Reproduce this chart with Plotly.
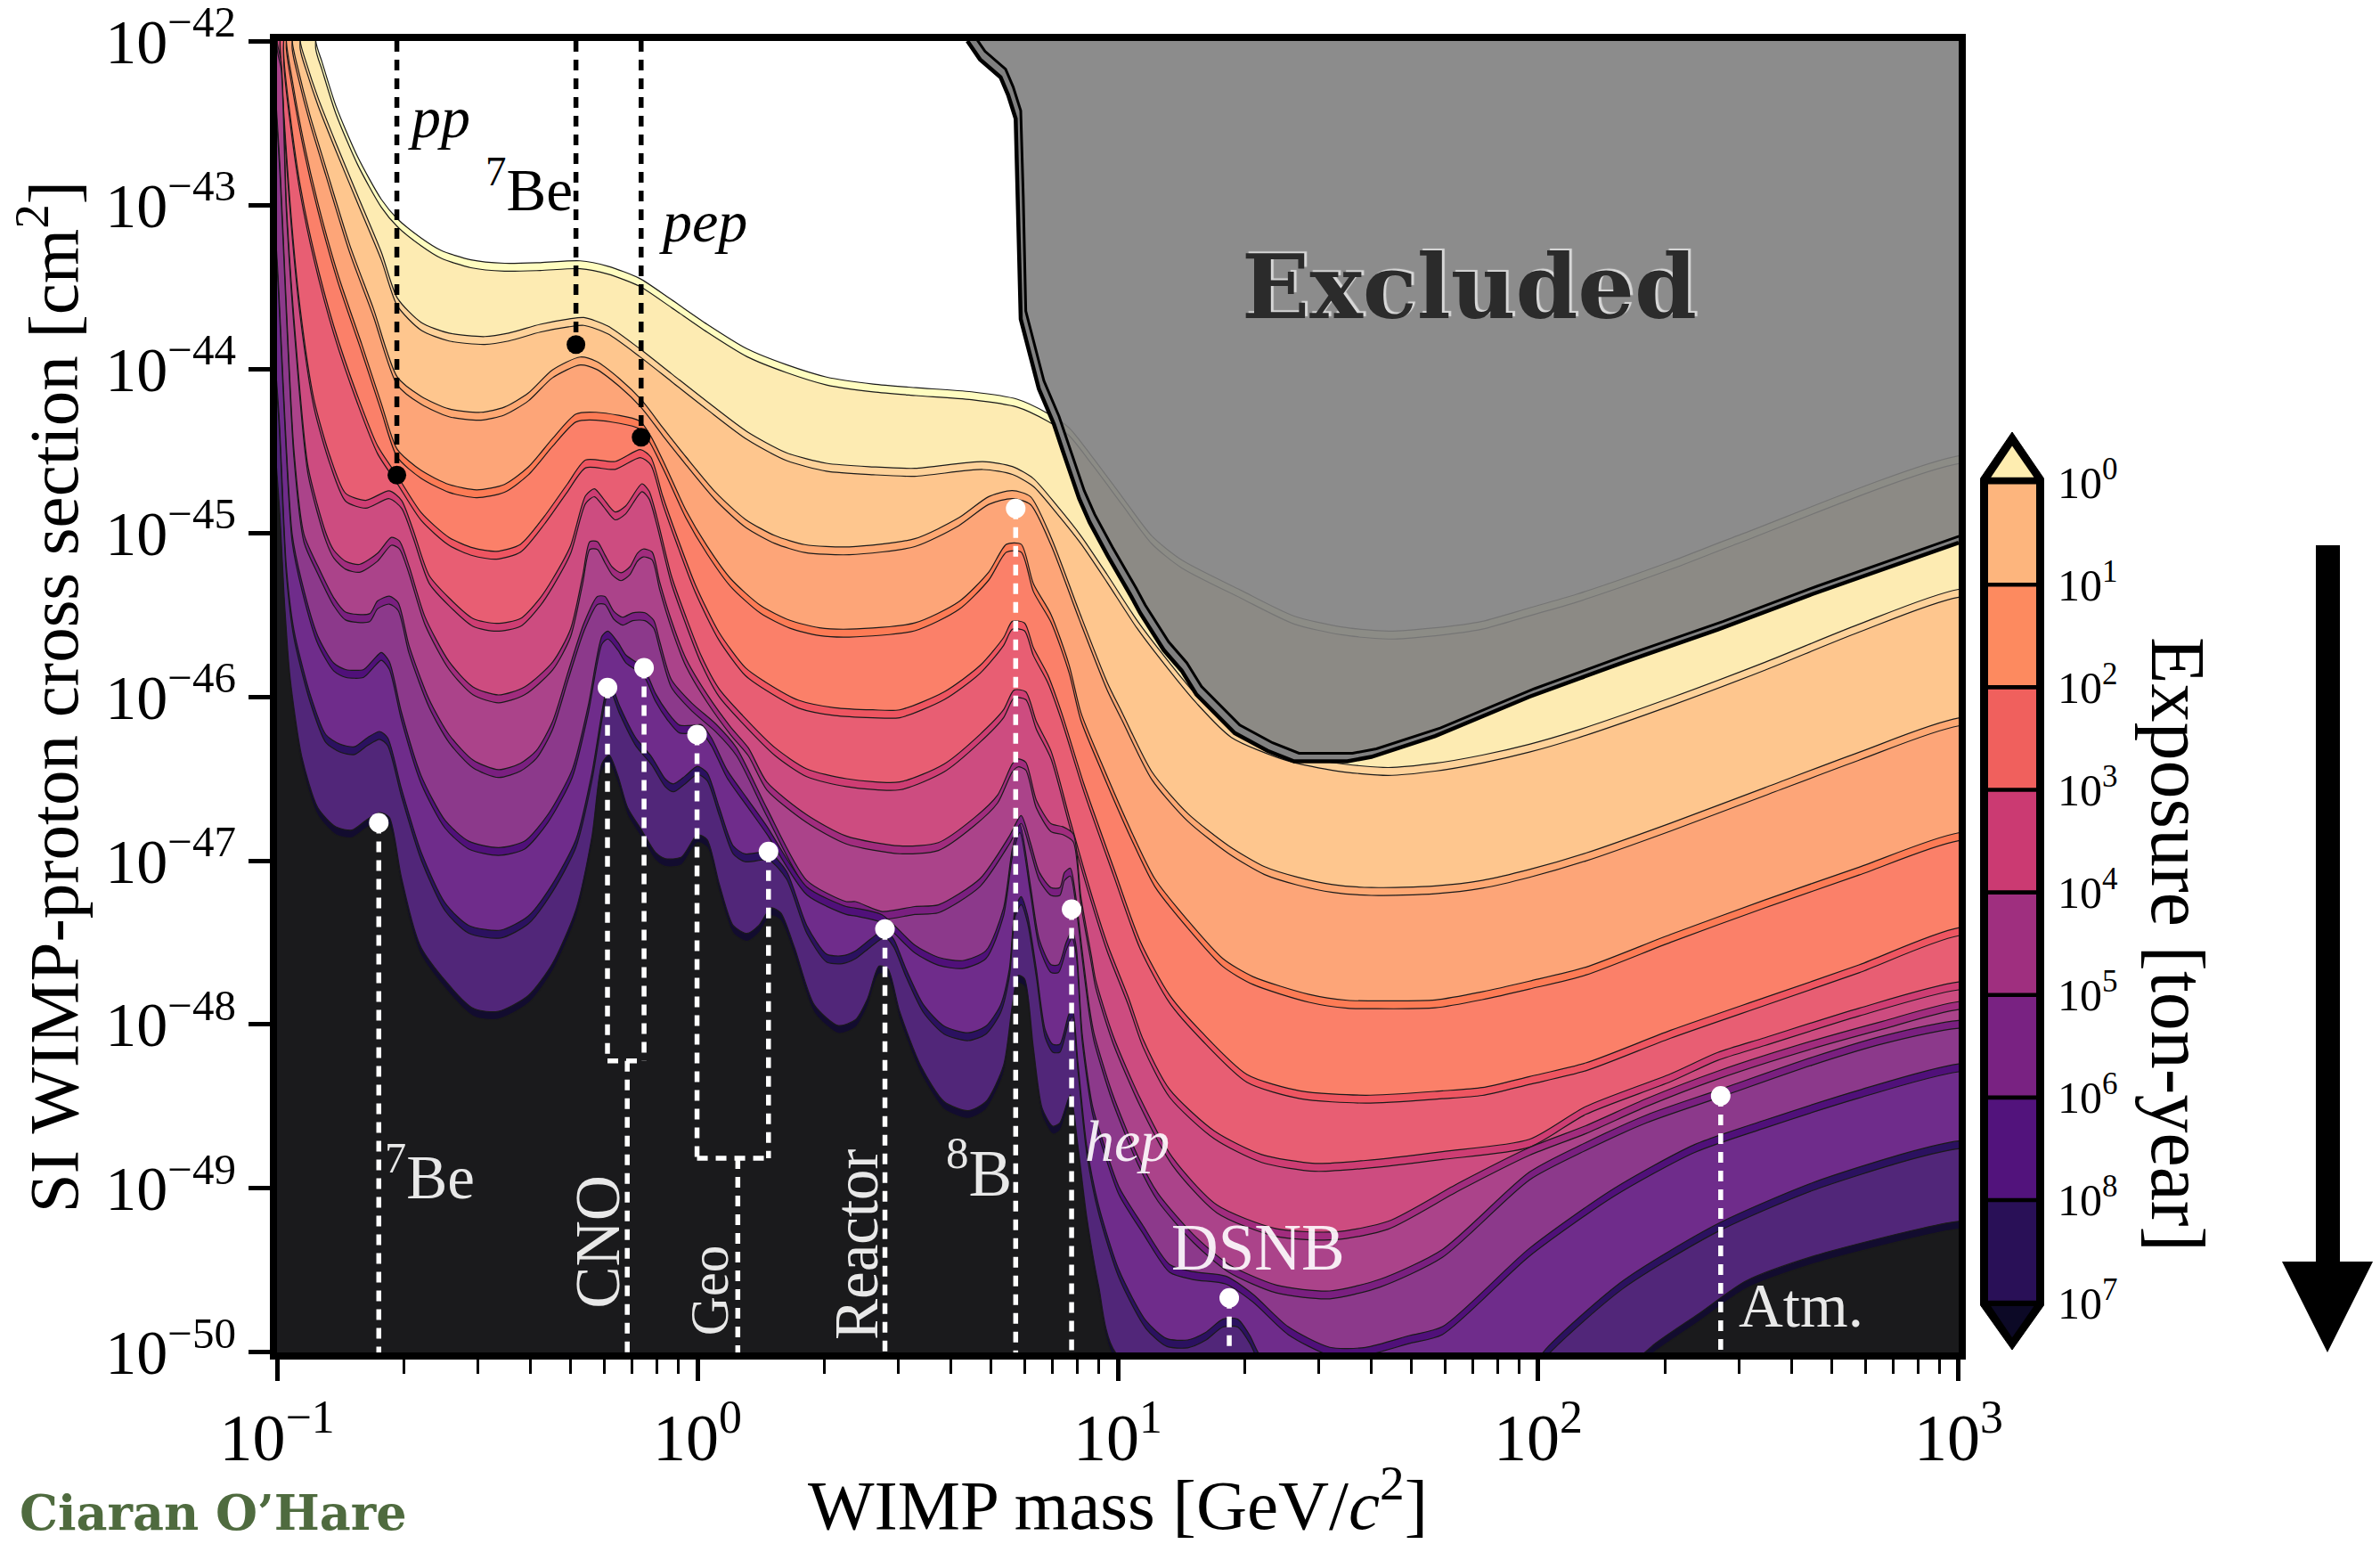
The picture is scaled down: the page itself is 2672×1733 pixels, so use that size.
import numpy as np
import plotly.graph_objects as go

W, H = 2672, 1733
SERIF = "Liberation Serif"

# Contours of the neutrino floor: log10(mass/GeV) and log10(sigma/cm^2), top to bottom
c1_logm = [-0.908,-0.893,-0.860,-0.808,-0.752,-0.714,-0.657,-0.610,-0.539,-0.459,-0.374,-0.279,-0.213,-0.137,-0.062,0.023,0.118,0.212,0.307,0.418,0.52,0.652,0.76,0.832,0.883,0.94,1.01,1.081,1.151,1.292,1.419,1.531,1.643,1.755,1.867,1.979,2.091,2.315,2.483,3.0]
c1_logs = [-42.0,-42.128,-42.396,-42.708,-42.966,-43.084,-43.202,-43.277,-43.335,-43.356,-43.352,-43.341,-43.374,-43.449,-43.578,-43.728,-43.878,-43.975,-44.05,-44.093,-44.115,-44.14,-44.185,-44.27,-44.357,-44.54,-44.78,-45.02,-45.165,-45.35,-45.508,-45.574,-45.6,-45.58,-45.54,-45.458,-45.375,-45.175,-45.009,-44.53]

c2_logm = [-0.945,-0.931,-0.903,-0.860,-0.808,-0.752,-0.714,-0.657,-0.591,-0.506,-0.449,-0.374,-0.307,-0.270,-0.213,-0.137,-0.062,0.023,0.118,0.212,0.307,0.418,0.517,0.679,0.749,0.799,0.855,0.912,0.975,1.045,1.116,1.187,1.27,1.4,1.52,1.643,1.755,1.867,1.979,2.091,2.315,2.539,2.763,3.0]
c2_logs = [-42.0,-42.128,-42.343,-42.622,-42.944,-43.288,-43.567,-43.717,-43.782,-43.803,-43.782,-43.728,-43.696,-43.687,-43.739,-43.878,-44.029,-44.2,-44.383,-44.512,-44.576,-44.598,-44.607,-44.566,-44.596,-44.669,-44.834,-45.018,-45.257,-45.532,-45.771,-45.991,-46.2,-46.34,-46.405,-46.432,-46.406,-46.356,-46.29,-46.206,-46.007,-45.79,-45.558,-45.345]

c3_logm = [-0.964,-0.950,-0.922,-0.884,-0.827,-0.771,-0.714,-0.657,-0.591,-0.515,-0.459,-0.402,-0.345,-0.279,-0.241,-0.185,-0.133,-0.083,-0.027,0.044,0.114,0.185,0.255,0.361,0.517,0.622,0.693,0.749,0.792,0.841,0.908,0.975,1.01,1.081,1.166,1.264,1.349,1.426,1.511,1.603,1.755,1.867,1.979,2.113,2.315,2.539,2.763,3.0]
c3_logs = [-42.0,-42.171,-42.45,-42.772,-43.245,-43.631,-44.05,-44.168,-44.244,-44.265,-44.233,-44.147,-44.007,-43.928,-43.954,-44.061,-44.19,-44.357,-44.538,-44.755,-44.918,-45.018,-45.072,-45.086,-45.036,-44.908,-44.779,-44.743,-44.779,-45.027,-45.48,-45.914,-46.096,-46.458,-46.711,-46.91,-47.037,-47.1,-47.146,-47.164,-47.154,-47.12,-47.054,-46.954,-46.771,-46.555,-46.339,-46.13]

c4_logm = [-0.978,-0.964,-0.936,-0.903,-0.856,-0.799,-0.752,-0.714,-0.657,-0.591,-0.525,-0.459,-0.402,-0.345,-0.289,-0.241,-0.137,-0.111,-0.076,-0.027,0.023,0.079,0.15,0.22,0.29,0.361,0.517,0.622,0.693,0.735,0.77,0.799,0.841,0.884,0.912,0.961,1.032,1.088,1.166,1.25,1.321,1.455,1.546,1.603,1.755,1.867,1.979,2.113,2.315,2.539,2.763,3.0]
c4_logs = [-42.0,-42.235,-42.622,-42.987,-43.417,-43.846,-44.211,-44.491,-44.62,-44.705,-44.738,-44.705,-44.598,-44.426,-44.276,-44.265,-44.319,-44.411,-44.592,-44.864,-45.081,-45.28,-45.443,-45.534,-45.579,-45.588,-45.55,-45.42,-45.24,-45.07,-45.07,-45.31,-45.498,-45.806,-46.096,-46.404,-46.82,-47.11,-47.363,-47.598,-47.707,-47.816,-47.852,-47.855,-47.85,-47.8,-47.735,-47.65,-47.45,-47.24,-47.04,-46.83]

c5_logm = [-0.985,-0.983,-0.969,-0.945,-0.912,-0.865,-0.808,-0.761,-0.714,-0.657,-0.591,-0.534,-0.478,-0.421,-0.364,-0.309,-0.266,-0.196,-0.136,-0.111,-0.083,-0.048,-0.005,0.051,0.114,0.164,0.241,0.326,0.417,0.481,0.587,0.672,0.728,0.749,0.778,0.799,0.834,0.866,0.919,0.989,1.053,1.123,1.201,1.307,1.433,1.589,1.772,1.867,1.979,2.113,2.315,2.539,2.763,3.0]
c5_logs = [-42.0,-42.128,-42.45,-42.88,-43.288,-43.739,-44.168,-44.469,-44.652,-44.877,-45.028,-45.092,-45.113,-45.07,-44.899,-44.701,-44.556,-44.565,-44.493,-44.538,-44.773,-45.027,-45.316,-45.606,-45.823,-45.914,-46.022,-46.067,-46.08,-46.08,-45.97,-45.81,-45.64,-45.54,-45.55,-45.7,-45.87,-46.096,-46.53,-47.037,-47.49,-47.82,-48.05,-48.304,-48.404,-48.431,-48.404,-48.384,-48.317,-48.234,-48.035,-47.835,-47.636,-47.41]

c6_logm = [-0.993,-0.969,-0.945,-0.912,-0.874,-0.837,-0.789,-0.733,-0.704,-0.676,-0.638,-0.591,-0.534,-0.478,-0.421,-0.374,-0.344,-0.302,-0.266,-0.245,-0.224,-0.196,-0.171,-0.132,-0.115,-0.097,-0.062,-0.027,0.009,0.051,0.107,0.185,0.26,0.354,0.481,0.587,0.672,0.728,0.753,0.781,0.806,0.841,0.884,0.926,0.975,1.025,1.06,1.123,1.229,1.342,1.469,1.589,1.772,1.979,2.113,2.315,2.427,2.539,2.763,3.0]
c6_logs = [-42.0,-42.987,-43.631,-44.19,-44.534,-44.759,-44.802,-44.744,-44.802,-44.985,-45.261,-45.397,-45.523,-45.552,-45.523,-45.397,-45.28,-45.08,-44.773,-44.732,-44.791,-44.873,-44.837,-44.701,-44.746,-44.9,-45.262,-45.515,-45.75,-45.95,-46.113,-46.312,-46.44,-46.5,-46.52,-46.41,-46.23,-46.08,-45.96,-45.97,-46.15,-46.331,-46.73,-47.11,-47.508,-47.834,-48.09,-48.395,-48.648,-48.793,-48.847,-48.829,-48.775,-48.7,-48.5,-48.3,-48.17,-48.08,-47.9,-47.74]

c7_logm = [-1.0,-0.99,-0.978,-0.955,-0.926,-0.884,-0.865,-0.837,-0.804,-0.761,-0.728,-0.709,-0.686,-0.648,-0.591,-0.534,-0.473,-0.411,-0.344,-0.302,-0.273,-0.256,-0.238,-0.22,-0.203,-0.182,-0.161,-0.143,-0.129,-0.108,-0.09,-0.062,-0.027,0.023,0.079,0.121,0.165,0.26,0.354,0.481,0.573,0.658,0.714,0.749,0.763,0.781,0.806,0.841,0.869,0.894,0.912,0.937,0.947,0.989,1.053,1.13,1.236,1.377,1.518,1.643,1.811,1.979,2.113,2.259,2.427,2.651,2.819,3.0]
c7_logs = [-42.0,-42.128,-42.987,-43.846,-44.6,-45.0,-45.106,-45.174,-45.193,-45.125,-45.028,-45.05,-45.203,-45.513,-45.785,-45.94,-45.989,-45.94,-45.787,-45.588,-45.262,-45.054,-45.054,-45.135,-45.208,-45.244,-45.208,-45.126,-45.099,-45.117,-45.298,-45.534,-45.769,-45.986,-46.185,-46.312,-46.52,-46.72,-46.85,-46.91,-46.89,-46.74,-46.6,-46.41,-46.38,-46.4,-46.63,-46.775,-46.793,-46.838,-47.218,-47.58,-47.725,-48.069,-48.449,-48.811,-49.101,-49.245,-49.264,-49.2,-48.966,-48.75,-48.617,-48.45,-48.284,-48.1,-47.98,-47.86]

c8_logm = [-1.01,-0.993,-0.96,-0.936,-0.903,-0.865,-0.837,-0.78,-0.761,-0.733,-0.712,-0.686,-0.638,-0.591,-0.534,-0.473,-0.421,-0.383,-0.345,-0.307,-0.27,-0.238,-0.22,-0.199,-0.178,-0.154,-0.125,-0.104,-0.09,-0.062,-0.013,0.044,0.093,0.165,0.26,0.354,0.376,0.439,0.517,0.573,0.672,0.742,0.77,0.792,0.813,0.841,0.862,0.873,0.887,0.898,0.915,0.933,0.943,0.986,1.049,1.095,1.18,1.264,1.377,1.504,1.624,1.772,1.979,2.113,2.259,2.427,2.651,2.819,3.0]
c8_logs = [-42.0,-42.77,-44.49,-45.009,-45.203,-45.397,-45.484,-45.494,-45.416,-45.387,-45.426,-45.688,-46.018,-46.231,-46.386,-46.445,-46.406,-46.328,-46.154,-45.843,-45.552,-45.389,-45.389,-45.479,-45.515,-45.488,-45.488,-45.534,-45.66,-45.895,-46.04,-46.167,-46.312,-46.68,-47.12,-47.25,-47.25,-47.31,-47.28,-47.27,-47.11,-46.85,-46.725,-46.89,-47.07,-47.164,-47.164,-47.073,-47.046,-47.182,-47.544,-47.906,-48.05,-48.413,-48.811,-49.028,-49.282,-49.463,-49.589,-49.625,-49.553,-49.372,-48.9,-48.72,-48.55,-48.4,-48.2,-48.07,-47.975]

c9_logm = [-1.03,-0.998,-0.964,-0.941,-0.903,-0.865,-0.837,-0.794,-0.771,-0.752,-0.733,-0.704,-0.657,-0.6,-0.544,-0.473,-0.411,-0.355,-0.298,-0.26,-0.227,-0.213,-0.189,-0.17,-0.128,-0.1,-0.071,-0.043,-0.005,0.009,0.033,0.07,0.118,0.165,0.26,0.354,0.376,0.439,0.517,0.573,0.63,0.686,0.728,0.749,0.767,0.792,0.813,0.841,0.859,0.877,0.891,0.901,0.915,0.94,0.968,1.003,1.06,1.123,1.18,1.257,1.321,1.405,1.504,1.589,1.694,1.772,1.979,2.18,2.371,2.539,2.763,3.0]
c9_logs = [-42.0,-43.42,-45.009,-45.3,-45.63,-45.795,-45.834,-45.834,-45.775,-45.73,-45.785,-46.095,-46.483,-46.755,-46.881,-46.92,-46.881,-46.716,-46.445,-46.057,-45.63,-45.6,-45.669,-45.746,-45.824,-45.979,-46.095,-46.173,-46.173,-46.17,-46.25,-46.445,-46.62,-46.79,-47.16,-47.28,-47.29,-47.33,-47.515,-47.59,-47.61,-47.55,-47.29,-46.93,-46.78,-47.15,-47.48,-47.634,-47.634,-47.499,-47.426,-47.526,-48.05,-48.5,-48.739,-48.992,-49.227,-49.463,-49.508,-49.535,-49.644,-49.843,-49.969,-49.969,-49.897,-49.843,-49.365,-49.0,-48.733,-48.583,-48.4,-48.24]

c10_logm = [-1.03,-0.995,-0.978,-0.96,-0.922,-0.884,-0.851,-0.816,-0.785,-0.756,-0.737,-0.704,-0.657,-0.6,-0.544,-0.468,-0.402,-0.345,-0.289,-0.251,-0.222,-0.21,-0.185,-0.147,-0.109,-0.076,-0.057,-0.029,0.0,0.023,0.052,0.085,0.113,0.17,0.212,0.26,0.307,0.345,0.376,0.411,0.446,0.467,0.496,0.538,0.587,0.644,0.686,0.721,0.742,0.756,0.77,0.785,0.806,0.827,0.845,0.862,0.883,0.892,0.905,0.926,0.954,1.003,1.067,1.116,1.166,1.208,1.25,1.285,1.314,1.335,1.5,1.85,2.024,2.203,2.427,2.651,2.875,3.0]
c10_logs = [-43.0,-44.3,-45.203,-45.591,-45.979,-46.231,-46.289,-46.305,-46.25,-46.212,-46.25,-46.561,-46.949,-47.259,-47.395,-47.424,-47.337,-47.143,-46.871,-46.464,-46.018,-45.9,-46.057,-46.25,-46.367,-46.503,-46.532,-46.483,-46.425,-46.464,-46.677,-46.91,-46.959,-46.949,-47.065,-47.395,-47.57,-47.58,-47.55,-47.48,-47.42,-47.48,-47.66,-47.88,-48.01,-48.05,-48.01,-47.88,-47.66,-47.29,-47.22,-47.33,-47.66,-48.03,-48.12,-48.12,-47.94,-47.906,-48.232,-48.739,-49.101,-49.499,-49.807,-49.915,-49.924,-49.879,-49.797,-49.797,-49.897,-50.006,-50.6,-50.5,-49.963,-49.56,-49.215,-48.966,-48.783,-48.71]

c11_logm = [-1.03,-0.993,-0.983,-0.969,-0.941,-0.903,-0.86,-0.822,-0.789,-0.756,-0.733,-0.704,-0.657,-0.534,-0.473,-0.402,-0.345,-0.289,-0.251,-0.227,-0.21,-0.189,-0.166,-0.133,-0.1,-0.076,-0.038,0.0,0.023,0.052,0.085,0.118,0.146,0.175,0.198,0.231,0.278,0.335,0.376,0.404,0.432,0.453,0.481,0.531,0.587,0.644,0.686,0.728,0.749,0.763,0.778,0.799,0.82,0.845,0.862,0.887,0.905,0.926,0.954,0.996,1.5,2.1,2.2,2.27,2.382,2.494,2.651,2.875,3.0]
c11_logs = [-43.5,-44.9,-45.397,-45.882,-46.367,-46.677,-46.794,-46.813,-46.755,-46.707,-46.736,-47.104,-47.531,-47.9,-47.919,-47.822,-47.628,-47.298,-46.852,-46.406,-46.357,-46.483,-46.677,-46.813,-46.949,-46.988,-46.978,-46.842,-46.871,-47.143,-47.395,-47.444,-47.395,-47.288,-47.318,-47.531,-47.88,-48.006,-47.97,-47.845,-47.643,-47.66,-47.92,-48.25,-48.47,-48.525,-48.47,-48.25,-47.88,-47.7,-47.72,-48.14,-48.51,-48.62,-48.6,-48.43,-48.739,-49.173,-49.589,-50.006,-50.7,-50.7,-50.15,-49.963,-49.764,-49.564,-49.415,-49.265,-49.2]

contours = [(c1_logm, c1_logs), (c2_logm, c2_logs), (c3_logm, c3_logs), (c4_logm, c4_logs),
            (c5_logm, c5_logs), (c6_logm, c6_logs), (c7_logm, c7_logs), (c8_logm, c8_logs),
            (c9_logm, c9_logs), (c10_logm, c10_logs), (c11_logm, c11_logs)]
strip_colors = ["#FFFDC0","#FED29A","#FEA873","#FD7B55","#EE5561","#CE3D73","#A12C7E","#7A1F80","#50107A","#2B1160","#120C2F"]
band_colors = ["#FDEBB2","#FEC68E","#FDA578","#FB8069","#E85E73","#CD4C80","#AB438A","#8C398B","#6F2C8B","#512679","#1A1A1C"]

# Excluded region boundary
exc_logm = [0.642,0.672,0.721,0.739,0.757,0.763,0.769,0.812,0.848,0.869,0.908,0.933,0.975,1.032,1.053,1.109,1.152,1.187,1.229,1.278,1.356,1.419,1.546,1.603,1.755,1.979,2.203,2.427,2.651,2.875,3.0]
exc_logs = [-42.0,-42.112,-42.221,-42.329,-42.474,-42.999,-43.696,-44.121,-44.338,-44.5,-44.792,-44.937,-45.136,-45.389,-45.489,-45.715,-45.842,-45.987,-46.095,-46.222,-46.33,-46.394,-46.394,-46.367,-46.24,-46.0,-45.79,-45.59,-45.375,-45.175,-45.06]

# Neutrino source markers
black_names = ["pp", "7Be", "pep"]
black_logm = [-0.715, -0.289, -0.134]
black_logs = [-44.648, -43.852, -44.417]
white_names = ["7Be", "CNO a", "CNO b", "Geo a", "Geo b", "Reactor", "8B", "hep", "DSNB", "Atm"]
white_logm = [-0.758, -0.214, -0.127, -0.001, 0.169, 0.446, 0.757, 0.89, 1.265, 2.434]
white_logs = [-46.769, -45.944, -45.824, -46.231, -46.944, -47.417, -44.852, -47.296, -49.667, -48.435]
cno_join_logs, cno_stem_logm = -48.222, -0.167
geo_join_logs, geo_stem_logm = -48.815, 0.096

# Colourbar
cbar_colors = ["#FDB57D","#FD8A5F","#F0605D","#CB3A72","#9F2F7F","#792282","#52137C","#291057"]
cbar_labels = ["10<sup>0</sup>","10<sup>1</sup>","10<sup>2</sup>","10<sup>3</sup>","10<sup>4</sup>","10<sup>5</sup>","10<sup>6</sup>","10<sup>8</sup>","10<sup>7</sup>"]
cbar_over, cbar_under = "#FEEDB0", "#0C0926"

x_major = [-1, 0, 1, 2, 3]
y_major = list(range(-50, -41))

fig = go.Figure()
STRIP = 0.048

def closed(m, s):
    x = [m[0]] + list(m) + [3.3, 3.3, -1.3, -1.3, m[0]]
    y = [-41.0] + list(s) + [s[-1], -53.0, -53.0, -41.0, -41.0]
    return 10.0 ** np.array(x), 10.0 ** np.array(y)

for i, (m, s) in enumerate(contours):
    for shift, col, nm in ((0.0, strip_colors[i], "strip"), (STRIP, band_colors[i], "band")):
        X, Y = closed(m, np.array(s) - shift)
        fig.add_trace(go.Scatter(x=X, y=Y, mode="lines", fill="toself", fillcolor=col,
                                 line=dict(color="#1A1A1A", width=1.2, shape="spline", smoothing=0.7),
                                 name=f"contour {i+1} {nm}", hoverinfo="skip"))

# Neutrino guide lines
def vline(lm, top, bottom, col):
    fig.add_trace(go.Scatter(x=[10.0**lm, 10.0**lm], y=[10.0**top, 10.0**bottom], mode="lines",
                             line=dict(color=col, width=5.5, dash="12px,9px"), hoverinfo="skip", name="guide"))

for lm, ls in zip(black_logm, black_logs):
    vline(lm, -42, ls, "black")
for k in (0, 5, 6, 7, 8, 9):
    vline(white_logm[k], white_logs[k], -50, "white")
for k in (1, 2):
    vline(white_logm[k], white_logs[k], cno_join_logs, "white")
for k in (3, 4):
    vline(white_logm[k], white_logs[k], geo_join_logs, "white")
vline(cno_stem_logm, cno_join_logs, -50, "white")
vline(geo_stem_logm, geo_join_logs, -50, "white")
for a, b, ls in ((white_logm[1], white_logm[2], cno_join_logs), (white_logm[3], white_logm[4], geo_join_logs)):
    fig.add_trace(go.Scatter(x=[10.0**a, 10.0**b], y=[10.0**ls, 10.0**ls], mode="lines",
                             line=dict(color="white", width=5.5, dash="12px,9px"), hoverinfo="skip", name="guide"))
fig.add_trace(go.Scatter(x=10.0**np.array(black_logm), y=10.0**np.array(black_logs), mode="markers",
                         marker=dict(color="black", size=21), text=black_names, name="neutrino (dark)"))
fig.add_trace(go.Scatter(x=10.0**np.array(white_logm), y=10.0**np.array(white_logs), mode="markers",
                         marker=dict(color="white", size=22), text=white_names, name="neutrino (light)"))

# Excluded region
em, es = np.array(exc_logm), np.array(exc_logs)
im, is_ = em + 0.012, es + 0.049
fig.add_trace(go.Scatter(x=10.0**np.r_[im, 3.2, 3.2, 0.6], y=10.0**np.r_[is_, is_[-1], -41.0, -41.0],
                         mode="lines", fill="toself", fillcolor="rgba(128,128,128,0.9)",
                         line=dict(color="rgba(0,0,0,0)", width=0), name="Excluded", hoverinfo="skip"))
fig.add_trace(go.Scatter(x=10.0**np.r_[em, im[::-1]], y=10.0**np.r_[es, is_[::-1]], mode="lines",
                         fill="toself", fillcolor="#808080", line=dict(color="rgba(0,0,0,0)", width=0),
                         name="Excluded edge", hoverinfo="skip"))
fig.add_trace(go.Scatter(x=10.0**em, y=10.0**es, mode="lines", line=dict(color="black", width=4.5),
                         name="Excluded outline", hoverinfo="skip"))
fig.add_trace(go.Scatter(x=10.0**im, y=10.0**is_, mode="lines", line=dict(color="black", width=3),
                         name="Excluded inner outline", hoverinfo="skip"))

# Colourbar on its own axes
fig.add_trace(go.Scatter(x=[0, 0.5, 1, 1, 0.5, 0, 0], y=[-0.03, -0.488, -0.03, 8.02, 8.46, 8.02, -0.03],
                         xaxis="x2", yaxis="y2", mode="lines", fill="toself", fillcolor="black",
                         line=dict(color="black", width=1), hoverinfo="skip", name="colourbar frame"))
for i, col in enumerate(cbar_colors):
    fig.add_trace(go.Scatter(x=[0.125, 0.875, 0.875, 0.125, 0.125], y=[i + 0.02, i + 0.02, i + 0.98, i + 0.98, i + 0.02],
                             xaxis="x2", yaxis="y2", mode="lines", fill="toself", fillcolor=col,
                             line=dict(width=0), hoverinfo="skip", name=f"colourbar cell {i}"))
fig.add_trace(go.Scatter(x=[0.17, 0.5, 0.84, 0.17], y=[-0.047, -0.353, -0.047, -0.047], xaxis="x2", yaxis="y2",
                         mode="lines", fill="toself", fillcolor=cbar_over, line=dict(width=0), hoverinfo="skip", name="over"))
fig.add_trace(go.Scatter(x=[0.17, 0.5, 0.84, 0.17], y=[8.035, 8.34, 8.035, 8.035], xaxis="x2", yaxis="y2",
                         mode="lines", fill="toself", fillcolor=cbar_under, line=dict(width=0), hoverinfo="skip", name="under"))

minor_vals = [f * 10.0**d for d in x_major[:-1] for f in range(2, 10)]

def txt(x, y, t, size, color="black", angle=0, family=SERIF, **kw):
    return dict(x=x, y=y, xref="x", yref="y", text=t, showarrow=False, textangle=angle,
                font=dict(family=family, size=size, color=color, **kw), xanchor="center", yanchor="middle")

WT = "rgba(255,255,255,0.9)"
anns = [
    txt(-0.614, -42.463, "<i>pp</i>", 66),
    txt(-0.401, -42.88, "<sup>7</sup>Be", 67),
    txt(0.014, -43.10, "<i>pep</i>", 66),
    txt(-0.636, -48.907, "<sup>7</sup>Be", 69, WT),
    txt(-0.239, -49.324, "CNO", 71, WT, -90),
    txt(0.028, -49.62, "Geo", 61, WT, -90),
    txt(0.378, -49.34, "Reactor", 69, WT, -90),
    txt(0.67, -48.88, "<sup>8</sup>B", 73, WT),
    txt(1.023, -48.71, "<i>hep</i>", 66, WT),
    txt(1.334, -49.36, "DSNB", 73, WT),
    txt(2.625, -49.72, "Atm.", 69, WT),
    txt(1.835, -43.5, "<b>Excluded</b>", 100, "#2B2B2B", family="DejaVu Serif", shadow="3px -2px 1px #D8D8D8"),
    dict(x=2445 / W, y=1 - 1060 / H, xref="paper", yref="paper", text="Exposure [ton-year]", textangle=90,
         showarrow=False, font=dict(family=SERIF, size=86, color="black"), xanchor="center", yanchor="middle"),
    dict(x=20 / W, y=1 - 1698 / H, xref="paper", yref="paper", text="<b>Ciaran O’Hare</b>", showarrow=False,
         font=dict(family="DejaVu Serif", size=54, color="#4F6B3F"), xanchor="left", yanchor="middle"),
]

def pf(x, y):
    return f"{x/W:.5f},{1-y/H:.5f}"

arrow = ("M " + pf(2600, 612) + " L " + pf(2627, 612) + " L " + pf(2627, 1416) + " L " + pf(2664, 1416) +
         " L " + pf(2613, 1518) + " L " + pf(2562, 1416) + " L " + pf(2600, 1416) + " Z")

fig.update_layout(
    width=W, height=H, autosize=False, margin=dict(l=0, r=0, t=0, b=0, autoexpand=False),
    paper_bgcolor="white", plot_bgcolor="white", showlegend=False,
    font=dict(family=SERIF, color="black"),
    annotations=anns,
    shapes=[dict(type="path", path=arrow, xref="paper", yref="paper", fillcolor="black", line=dict(width=0))],
    xaxis=dict(type="log", range=[-1.0001, 3.0001], domain=[311 / W, 2199 / W], anchor="y", automargin=False,
               tickmode="array", tickvals=[10.0**d for d in x_major],
               ticktext=[f"10<sup>{str(d).replace('-', '−')}</sup>" for d in x_major],
               ticks="outside", ticklen=24, tickwidth=5, tickcolor="black", ticklabeloverflow="allow",
               tickfont=dict(family=SERIF, size=74), showgrid=False, zeroline=False,
               showline=True, linewidth=8, linecolor="black", mirror=True,
               minor=dict(tickmode="array", tickvals=minor_vals, ticks="outside", ticklen=16, tickwidth=3,
                          tickcolor="black", showgrid=False),
               title=dict(text="WIMP mass [GeV/<i>c</i><sup>2</sup>]", font=dict(family=SERIF, size=79), standoff=8)),
    yaxis=dict(type="log", range=[-50.0001, -41.9999], domain=[1 - 1518 / H, 1 - 46 / H], anchor="x", automargin=False,
               tickmode="array", tickvals=[10.0**d for d in y_major],
               ticktext=[f"10<sup>{str(d).replace('-', '−')}</sup>" for d in y_major],
               ticks="outside", ticklen=24, tickwidth=5, tickcolor="black", ticklabeloverflow="allow",
               tickfont=dict(family=SERIF, size=70), showgrid=False, zeroline=False,
               showline=True, linewidth=8, linecolor="black", mirror=True,
               title=dict(text="SI WIMP-proton cross section [cm<sup>2</sup>]", font=dict(family=SERIF, size=79), standoff=8)),
    xaxis2=dict(range=[0, 1], domain=[2223 / W, 2295 / W], anchor="y2", visible=False),
    yaxis2=dict(range=[8.46, -0.488], domain=[1 - 1515 / H, 1 - 485 / H], anchor="x2", side="right", automargin=False,
                tickmode="array", tickvals=list(range(9)), ticktext=cbar_labels,
                ticks="outside", ticklen=4, tickcolor="rgba(0,0,0,0)", tickwidth=1,
                tickfont=dict(family=SERIF, size=50), showgrid=False, zeroline=False, showline=False),
)

fig.write_html("out.html", post_script="document.body.style.margin='0';", config={"displayModeBar": False})
